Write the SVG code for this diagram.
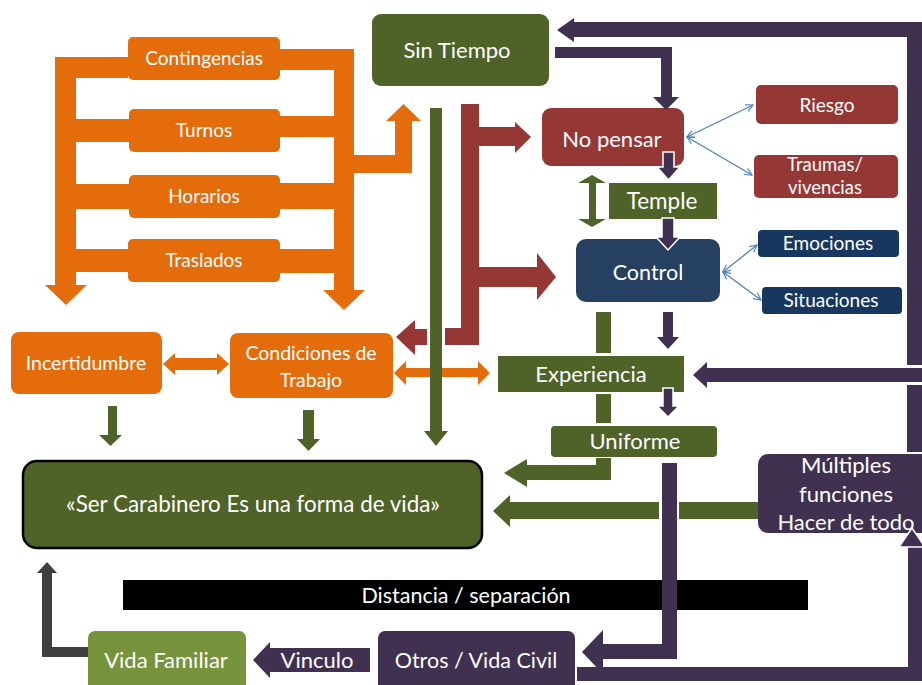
<svg xmlns="http://www.w3.org/2000/svg" width="922" height="685" viewBox="0 0 922 685">
<defs>
<style>
text{font-family:Lato,"Liberation Sans",sans-serif;fill:#fff;text-anchor:middle}
.or{fill:#e46c0a}
.gr{fill:#4f6228}
.rd{fill:#953735}
.pu{fill:#403151}
.bl{fill:#254061}
.nv{fill:#17375e}
.wo{stroke:#fff;stroke-width:1.5}
.thin{stroke:#4f81bd;stroke-width:1.3;fill:none;marker-start:url(#ch);marker-end:url(#ch)}
</style>
<marker id="ch" viewBox="0 0 10 10" refX="9" refY="5" markerWidth="9" markerHeight="9" markerUnits="userSpaceOnUse" orient="auto-start-reverse">
<path d="M1,1 L9,5 L1,9" fill="none" stroke="#4f81bd" stroke-width="1.3"/>
</marker>
</defs>
<rect width="922" height="685" fill="#fff"/>

<g id="contingencias"><rect class="or" x="128" y="37" width="152" height="43" rx="5"/><text x="204" y="65" font-size="19">Contingencias</text></g>
<g id="turnos"><rect class="or" x="129" y="109" width="151" height="43" rx="5"/><text x="204" y="137" font-size="19">Turnos</text></g>
<g id="horarios"><rect class="or" x="129" y="175" width="151" height="43" rx="5"/><text x="204" y="203" font-size="19">Horarios</text></g>
<g id="traslados"><rect class="or" x="128" y="239" width="152" height="43" rx="5"/><text x="204" y="267" font-size="19">Traslados</text></g>
<g id="sin-tiempo"><rect class="gr" x="372" y="14" width="177" height="72" rx="9"/><text x="457" y="58" font-size="22">Sin Tiempo</text></g>
<g id="no-pensar"><rect class="rd" x="542" y="108" width="142" height="58" rx="9"/><text x="612" y="147" font-size="22">No pensar</text></g>
<g id="temple"><rect class="gr" x="609" y="183" width="108" height="36"/><text x="662" y="209" font-size="22.5">Temple</text></g>
<g id="control"><rect class="bl" x="576" y="239" width="144" height="63" rx="10"/><text x="648" y="280" font-size="21.5">Control</text></g>
<g id="riesgo"><rect class="rd" x="756" y="85" width="142" height="39" rx="5"/><text x="827" y="112" font-size="19">Riesgo</text></g>
<g id="traumas"><rect class="rd" x="754" y="155" width="144" height="43" rx="5"/><text x="825" y="171" font-size="18.5">Traumas/</text><text x="825" y="194" font-size="18.5">vivencias</text></g>
<g id="emociones"><rect class="nv" x="758" y="230" width="141" height="27" rx="4"/><text x="828" y="250" font-size="19">Emociones</text></g>
<g id="situaciones"><rect class="nv" x="762" y="287" width="140" height="27" rx="4"/><text x="831" y="307" font-size="19">Situaciones</text></g>
<g id="incertidumbre"><rect class="or" x="11" y="332" width="151" height="62" rx="8"/><text x="86" y="370" font-size="19.5">Incertidumbre</text></g>
<g id="condiciones"><rect class="or" x="230" y="333" width="163" height="65" rx="8"/><text x="311" y="360" font-size="19.5">Condiciones de</text><text x="311" y="387" font-size="19.5">Trabajo</text></g>
<g id="experiencia"><rect class="gr" x="498" y="356" width="186" height="36"/><text x="591" y="382" font-size="22">Experiencia</text></g>
<g id="uniforme"><rect class="gr" x="551" y="426" width="166" height="31" rx="4"/><text x="635" y="449" font-size="22">Uniforme</text></g>
<g id="ser-carabinero"><rect class="gr" x="23" y="461" width="459" height="87" rx="14" stroke="#000" stroke-width="2.5"/><text x="253" y="512" font-size="22.4">«Ser Carabinero Es una forma de vida»</text></g>
<g id="multiples"><rect class="pu" x="758" y="454" width="180" height="79" rx="10"/><text x="846" y="473" font-size="22">Múltiples</text><text x="846" y="502" font-size="22">funciones</text><text x="846" y="530" font-size="22">Hacer de todo</text></g>
<g id="distancia"><rect x="123" y="580" width="685" height="30" fill="#000"/><text x="466" y="603" font-size="21.5">Distancia / separación</text></g>
<g id="vida-familiar"><rect x="88" y="631" width="158" height="62" rx="7" fill="#77933c"/><text x="166" y="668" font-size="22">Vida Familiar</text></g>
<g id="otros"><rect class="pu" x="378" y="631" width="197" height="62" rx="7"/><text x="476" y="668" font-size="21.5">Otros / Vida Civil</text></g>

<g id="connectors">
<g class="or">
<rect x="55" y="57" width="21" height="229"/><rect x="55" y="57" width="73" height="21"/>
<rect x="76" y="119" width="53" height="23"/><rect x="76" y="184" width="53" height="25"/><rect x="76" y="249" width="53" height="23"/>
<polygon points="45,285 87,285 66,305"/>
<rect x="280" y="49" width="74" height="21"/><rect x="334" y="49" width="20" height="242"/>
<rect x="280" y="116" width="54" height="21"/><rect x="280" y="183" width="54" height="26"/><rect x="280" y="249" width="54" height="24"/>
<polygon points="323,290 365,290 344,310"/>
<rect x="354" y="155" width="58" height="18"/><rect x="395" y="121" width="17" height="52"/>
<polygon points="386,121 421,121 403.5,104"/>
<polygon points="163,364 175,353 175,358 217,358 217,353 229,364 217,375 217,370 175,370 175,375"/>
<polygon points="394,373 406,361 406,368 478,368 478,361 490,373 478,385 478,377 406,377 406,385"/>
</g>
<g class="rd">
<rect x="461" y="104" width="18" height="241"/>
<rect x="445" y="328" width="34" height="17"/>
<rect x="413" y="329" width="14" height="16"/>
<polygon points="415,320 415,355 396,337"/>
<rect x="478" y="127" width="38" height="19"/><polygon points="515,122 515,153 531,137"/>
<rect x="478" y="267" width="60" height="20"/><polygon points="537,253 537,300 556,277"/>
</g>
<g class="gr">
<rect x="430" y="108" width="12" height="324"/><polygon points="424,431 448,431 436,446"/>
<rect x="108" y="406" width="9" height="30"/><polygon points="99,435 122,435 110.5,446"/>
<rect x="303" y="410" width="11" height="30"/><polygon points="297,439 320,439 308.5,451"/>
<rect x="589" y="182" width="7" height="38"/><polygon points="578,183 606,183 592,175"/><polygon points="578,219 606,219 592,227"/>
<rect x="596" y="312" width="15" height="41"/><rect x="596" y="394" width="15" height="29"/>
<rect x="596" y="458" width="15" height="22"/><rect x="527" y="465" width="84" height="15"/><polygon points="527,459 527,487 504,473"/>
<rect x="510" y="502" width="149" height="17"/><rect x="679" y="502" width="79" height="17"/><polygon points="510,495 510,527 493,511"/>
</g>
<g class="pu">
<rect x="574" y="22" width="348" height="15"/><polygon points="574,18 574,42 557,30"/>
<rect x="907" y="22" width="15" height="343"/>
<rect x="707" y="368" width="215" height="14"/><polygon points="707,362 707,388 693,375"/>
<rect x="907" y="385" width="15" height="67"/>
<rect x="555" y="47" width="117" height="11"/><rect x="661" y="47" width="11" height="51"/><polygon points="653,97 679,97 666,110"/>
<path class="wo" d="M663,152 H674 V167 H680 L668.5,180 L657,167 H663 Z"/>
<path class="wo" d="M662,218 H674 V237 H680 L668,250 L656,237 H662 Z"/>
<rect x="663" y="312" width="10" height="26"/><polygon points="657,337 679,337 668,349"/>
<path class="wo" d="M663,388 H673 V406 H679 L668,417 L657,406 H663 Z"/>
<path d="M662,463 H677 V659 H603 V674 L582,652 L603,630 V644 H662 Z"/>
<rect x="577" y="667" width="345" height="14"/>
<rect x="908" y="546" width="14" height="135"/>
<polygon class="wo" points="899,547 925,547 912,528"/>
<rect x="270" y="648" width="100" height="24"/><polygon points="270,642 270,678 253,660"/>
</g>
<text x="317" y="668" font-size="22">Vinculo</text>
<g fill="#404040">
<rect x="42" y="647" width="46" height="10"/><rect x="42" y="572" width="10" height="85"/><polygon points="37,573 57,573 47,562"/>
</g>
<line class="thin" x1="687" y1="137" x2="753" y2="105"/>
<line class="thin" x1="687" y1="137" x2="752" y2="175"/>
<line class="thin" x1="723" y1="272" x2="757" y2="245"/>
<line class="thin" x1="723" y1="272" x2="761" y2="300"/>
</g>
</svg>
